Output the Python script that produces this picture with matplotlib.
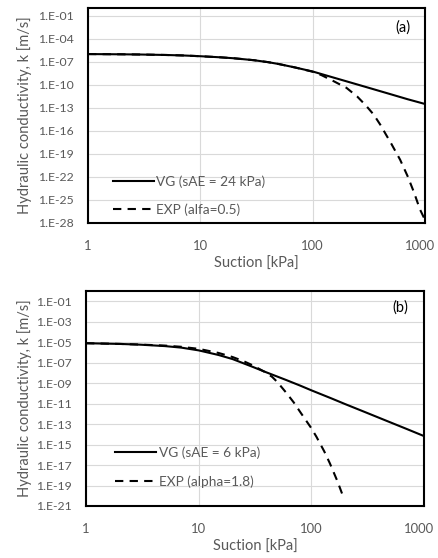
import matplotlib.pyplot as plt
from matplotlib.ticker import FixedLocator, FuncFormatter, NullLocator
from matplotlib.transforms import ScaledTranslation
import numpy as np

plt.rcParams['font.family'] = ['Lato', 'DejaVu Sans']

# panel (a): suction [kPa] and log10 of k [m/s]
suction_vg_a = [1, 2, 3, 5, 7, 10, 15, 20, 30, 40, 50, 70, 100, 150, 200, 300, 500, 700, 1000]
logk_vg_a = [-6.0, -6.03, -6.06, -6.12, -6.18, -6.28, -6.42, -6.55, -6.8, -7.05, -7.3, -7.75,
             -8.27, -9.02, -9.55, -10.3, -11.25, -11.88, -12.5]
suction_exp_a = [1, 2, 3, 5, 7, 10, 15, 20, 30, 40, 50, 70, 100, 120, 150, 200, 250, 300, 350,
                 400, 450, 500, 600, 700, 800, 900, 1000]
logk_exp_a = [-6.0, -6.03, -6.06, -6.12, -6.18, -6.28, -6.42, -6.55, -6.8, -7.05, -7.3, -7.75,
              -8.3, -8.75, -9.45, -10.4, -11.55, -12.75, -13.9, -15.2, -16.5, -17.65, -19.75,
              -21.9, -24.05, -26.2, -27.6]

# panel (b)
suction_vg_b = [1, 2, 3, 5, 7, 10, 15, 20, 30, 40, 60, 80, 100, 150, 200, 300, 500, 700, 1000]
logk_vg_b = [-5.1, -5.17, -5.24, -5.38, -5.53, -5.8, -6.25, -6.65, -7.4, -7.95, -8.7, -9.25,
             -9.7, -10.48, -11.05, -11.83, -12.82, -13.47, -14.17]
suction_exp_b = [1, 2, 3, 5, 7, 10, 15, 20, 25, 30, 35, 40, 45, 50, 60, 70, 80, 100, 111, 130,
                 146, 170, 192]
logk_exp_b = [-5.1, -5.17, -5.23, -5.33, -5.45, -5.65, -6.05, -6.45, -6.85, -7.25, -7.65, -8.0,
              -8.4, -8.9, -9.95, -10.9, -11.85, -13.4, -14.24, -15.65, -16.83, -18.55, -20.1]

x_ticks = [1, 10, 100, 1000]
gray = '#595959'


def k_label(v, pos):
    return '1.E{:+03d}'.format(int(round(np.log10(v))))


def setup_axes(ax, ymin_exp, step, letter, letter_xy, ylab_x):
    ax.set_xscale('log')
    ax.set_yscale('log')
    ax.set_xlim(1, 1000)
    ax.set_ylim(10.0 ** ymin_exp, 1.0)
    ax.xaxis.set_major_locator(FixedLocator(x_ticks))
    ax.xaxis.set_minor_locator(NullLocator())
    ax.xaxis.set_major_formatter(FuncFormatter(lambda v, p: '%d' % v))
    yt = [10.0 ** e for e in range(ymin_exp, 0, step)]
    ax.yaxis.set_major_locator(FixedLocator(yt))
    ax.yaxis.set_minor_locator(NullLocator())
    ax.yaxis.set_major_formatter(FuncFormatter(k_label))
    ax.grid(True, color='#d9d9d9', lw=0.8)
    ax.set_axisbelow(True)
    ax.tick_params(axis='y', length=0, labelsize=8.8, labelcolor=gray, pad=10)
    ax.tick_params(axis='x', length=0, labelsize=9.4, labelcolor=gray, pad=12)
    for sp in ax.spines.values():
        sp.set_color('black')
        sp.set_linewidth(1.5)
    ax.set_xlabel('Suction [kPa]', fontsize=10.5, color=gray, va='top')
    ax.xaxis.set_label_coords(0.5, -0.155)
    ax.set_ylabel('Hydraulic conductivity, k [m/s]', fontsize=10.5, color=gray)
    ax.yaxis.set_label_coords(ylab_x, 0.5)
    ax.text(letter_xy[0], letter_xy[1], letter, transform=ax.transAxes, fontsize=10.5,
            ha='center', va='center')


fig = plt.figure(figsize=(4.38, 5.58), dpi=100)
ax1 = fig.add_axes([88 / 438, 1 - 223 / 558, 337 / 438, 215 / 558])
ax2 = fig.add_axes([86 / 438, 1 - 506 / 558, 338 / 438, 215 / 558])

ax1.plot(suction_vg_a, 10.0 ** np.array(logk_vg_a), color='black', lw=1.5,
         label='VG (sAE = 24 kPa)')
ax1.plot(suction_exp_a, 10.0 ** np.array(logk_exp_a), color='black', lw=1.5,
         linestyle=(0, (4, 3)), label='EXP (alfa=0.5)')
setup_axes(ax1, -28, 3, '(a)', (0.935, 0.907), -0.166)
leg = ax1.legend(loc='upper left', bbox_to_anchor=(0.074, 0.222), frameon=False, fontsize=9.8,
                 handlelength=3.0, handletextpad=0.2, labelspacing=1.12, borderpad=0,
                 borderaxespad=0)
for t in leg.get_texts():
    t.set_color(gray)

ax2.plot(suction_vg_b, 10.0 ** np.array(logk_vg_b), color='black', lw=1.5,
         label='VG (sAE = 6 kPa)')
ax2.plot(suction_exp_b, 10.0 ** np.array(logk_exp_b), color='black', lw=1.5,
         linestyle=(0, (4, 3)), label='EXP (alpha=1.8)')
setup_axes(ax2, -21, 2, '(b)', (0.929, 0.921), -0.160)
leg = ax2.legend(loc='upper left', bbox_to_anchor=(0.086, 0.277), frameon=False, fontsize=9.8,
                 handlelength=3.0, handletextpad=0.2, labelspacing=1.2, borderpad=0,
                 borderaxespad=0)
for t in leg.get_texts():
    t.set_color(gray)

# nudge the "1000" labels left so they stay inside the figure
fig.canvas.draw()
for ax in (ax1, ax2):
    lab = ax.xaxis.get_major_ticks()[-1].label1
    lab.set_transform(lab.get_transform() + ScaledTranslation(-5 / 100, 0, fig.dpi_scale_trans))

fig.savefig('out.png', dpi=100)
